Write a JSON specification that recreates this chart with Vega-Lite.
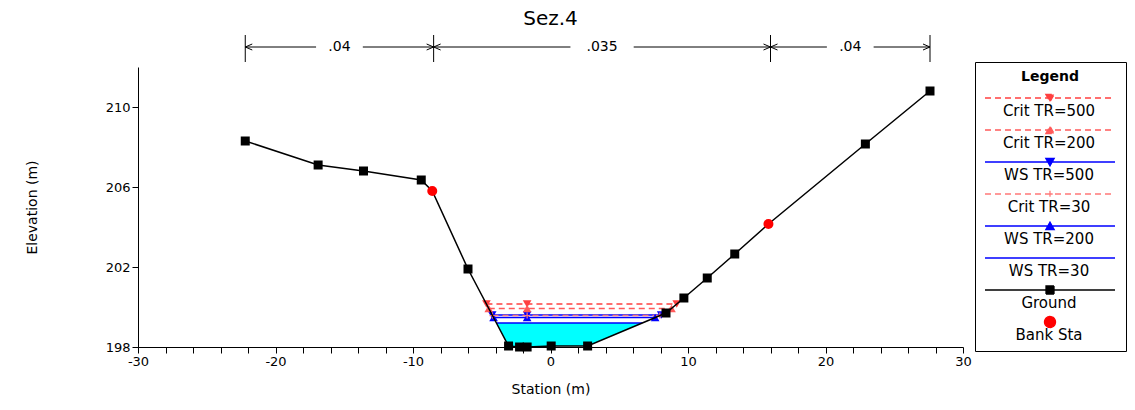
{
  "$schema": "https://vega.github.io/schema/vega-lite/v6.json",
  "width": 825,
  "height": 280,
  "autosize": "none",
  "padding": {"left": 138, "top": 67, "right": 172, "bottom": 63},
  "background": "white",
  "title": {"text": "Sez.4", "font": "DejaVu Sans", "fontSize": 20, "fontWeight": "normal", "color": "black", "anchor": "middle", "frame": "group", "offset": 6},
  "config": {
    "view": {"stroke": null},
    "axis": {"domainColor": "black", "tickColor": "black", "labelColor": "black", "titleColor": "black", "labelFont": "DejaVu Sans", "titleFont": "DejaVu Sans", "labelFontSize": 13, "titleFontSize": 14, "titleFontWeight": "normal", "grid": false, "labelOverlap": false, "labelFlush": false, "labelBound": false}
  },
  "datasets": {
    "ground": [
      {"series": "Ground", "station": -22.2, "elev": 208.3},
      {"series": "Ground", "station": -16.9, "elev": 207.1},
      {"series": "Ground", "station": -13.6, "elev": 206.8},
      {"series": "Ground", "station": -9.4, "elev": 206.35},
      {"series": "Ground", "station": -8.6, "elev": 205.8},
      {"series": "Ground", "station": -6.0, "elev": 201.9},
      {"series": "Ground", "station": -3.05, "elev": 198.05},
      {"series": "Ground", "station": -2.25, "elev": 198.0},
      {"series": "Ground", "station": -1.7, "elev": 198.0},
      {"series": "Ground", "station": 0.05, "elev": 198.05},
      {"series": "Ground", "station": 2.7, "elev": 198.05},
      {"series": "Ground", "station": 8.4, "elev": 199.7},
      {"series": "Ground", "station": 9.7, "elev": 200.45},
      {"series": "Ground", "station": 11.4, "elev": 201.45},
      {"series": "Ground", "station": 13.4, "elev": 202.65},
      {"series": "Ground", "station": 15.85, "elev": 204.15},
      {"series": "Ground", "station": 22.9, "elev": 208.15},
      {"series": "Ground", "station": 27.6, "elev": 210.8}
    ],
    "bank": [
      {"series": "Bank Sta", "station": -8.6, "elev": 205.8},
      {"series": "Bank Sta", "station": 15.85, "elev": 204.15}
    ],
    "fill": [
      {"station": -3.93, "elev": 199.2},
      {"station": -3.05, "elev": 198.05},
      {"station": -2.25, "elev": 198.0},
      {"station": -1.7, "elev": 198.0},
      {"station": 0.05, "elev": 198.05},
      {"station": 2.7, "elev": 198.05},
      {"station": 6.67, "elev": 199.2}
    ],
    "wl": [
      {"series": "Crit TR=500", "station": -4.66, "elev": 200.15, "marker": "down"},
      {"series": "Crit TR=500", "station": -1.7, "elev": 200.15, "marker": "down"},
      {"series": "Crit TR=500", "station": 9.18, "elev": 200.15, "marker": "down"},
      {"series": "Crit TR=200", "station": -4.49, "elev": 199.93, "marker": "up"},
      {"series": "Crit TR=200", "station": -1.7, "elev": 199.93, "marker": "up"},
      {"series": "Crit TR=200", "station": 8.8, "elev": 199.93, "marker": "up"},
      {"series": "WS TR=500", "station": -4.24, "elev": 199.6, "marker": "down"},
      {"series": "WS TR=500", "station": -1.7, "elev": 199.6, "marker": "down"},
      {"series": "WS TR=500", "station": 8.05, "elev": 199.6, "marker": "down"},
      {"series": "Crit TR=30", "station": -4.22, "elev": 199.57, "marker": "plus"},
      {"series": "Crit TR=30", "station": -1.7, "elev": 199.57, "marker": "plus"},
      {"series": "Crit TR=30", "station": 7.95, "elev": 199.57, "marker": "plus"},
      {"series": "WS TR=200", "station": -4.14, "elev": 199.47, "marker": "up"},
      {"series": "WS TR=200", "station": -1.7, "elev": 199.47, "marker": "up"},
      {"series": "WS TR=200", "station": 7.61, "elev": 199.47, "marker": "up"},
      {"series": "WS TR=30", "station": -3.93, "elev": 199.2, "marker": "none"},
      {"series": "WS TR=30", "station": 6.67, "elev": 199.2, "marker": "none"}
    ]
  },
  "encoding": {
    "x": {"field": "station", "type": "quantitative", "scale": {"domain": [-30, 30], "nice": false, "zero": false},
      "axis": {"title": "Station (m)", "values": [-30,-28,-26,-24,-22,-20,-18,-16,-14,-12,-10,-8,-6,-4,-2,0,2,4,6,8,10,12,14,16,18,20,22,24,26,28,30],
        "labelExpr": "datum.value % 10 === 0 ? toString(datum.value) : ''", "labelOverlap": false, "tickSize": 6, "labelPadding": 2, "titlePadding": 14,
        "encode": {"ticks": {"update": {"y2": {"signal": "datum.value % 10 === 0 ? 6 : 4"}}}}}},
    "color": {"field": "series", "type": "nominal",
      "scale": {"domain": ["Crit TR=500", "Crit TR=200", "WS TR=500", "Crit TR=30", "WS TR=200", "WS TR=30", "Ground", "Bank Sta"],
        "range": ["#ff4040", "#ff5a5a", "#0000ff", "#ff7878", "#0000ff", "#0000ff", "#000000", "#ff0000"]},
      "legend": {
        "title": "Legend", "orient": "none", "legendX": 837, "legendY": -5,
        "strokeColor": "black", "fillColor": "white", "padding": 8,
        "titleFont": "DejaVu Sans", "titleFontSize": 14, "titleFontWeight": "bold", "titleColor": "black", "titleAnchor": "middle", "titlePadding": 3,
        "labelFont": "DejaVu Sans", "labelFontSize": 15, "labelColor": "black", "labelLimit": 400,
        "symbolSize": 400, "symbolOffset": 56, "symbolStrokeWidth": 1.3, "rowPadding": -1,
        "encode": {
          "symbols": {"update": {
            "shape": {"signal": "datum.value === 'Crit TR=500' || datum.value === 'WS TR=500' ? 'M0,-0.52M0,0.52M-6.5,0H6.5M-0.42,-0.36H0.42L0,0.39Z' : datum.value === 'Crit TR=200' || datum.value === 'WS TR=200' ? 'M0,-0.52M0,0.52M-6.5,0H6.5M-0.42,0.36H0.42L0,-0.39Z' : datum.value === 'Crit TR=30' ? 'M0,-0.52M0,0.52M-6.5,0H6.5M-0.33,0H0.33M0,-0.33V0.33' : datum.value === 'WS TR=30' ? 'M0,-0.52M0,0.52M-6.5,0H6.5' : datum.value === 'Ground' ? 'M0,-0.52M0,0.52M-6.5,0H6.5M-0.4,-0.4H0.4V0.4H-0.4Z' : 'M-0.55,0A0.55,0.55,0,1,0,0.55,0A0.55,0.55,0,1,0,-0.55,0Z'"},
            "stroke": {"signal": "scale('color', datum.value)"},
            "fill": {"signal": "scale('color', datum.value)"},
            "strokeDash": {"signal": "indexof(datum.value, 'Crit') === 0 ? [6, 4] : [1, 0]"},
            "opacity": {"value": 1},
            "fillOpacity": {"value": 1},
            "strokeWidth": {"value": 1.3}
          }},
          "labels": {"update": {
            "x": {"value": 66},
            "align": {"value": "center"},
            "baseline": {"value": "middle"},
            "dy": {"value": 13}
          }}
        }
      }
    }
  },
  "layer": [
    {"data": {"name": "fill"}, "mark": {"type": "area", "color": "#00ffff"},
      "encoding": {"color": {"value": "#00ffff"},
        "y": {"field": "elev", "type": "quantitative", "scale": {"domain": [198, 212], "nice": false, "zero": false}},
        "y2": {"datum": 199.2}}},
    {"data": {"name": "wl"}, "transform": [{"filter": "indexof(datum.series, 'WS') === 0"}],
      "mark": {"type": "line", "strokeWidth": 1.5},
      "encoding": {"y": {"field": "elev", "type": "quantitative", "scale": {"domain": [198, 212], "nice": false, "zero": false}}}},
    {"data": {"name": "wl"}, "transform": [{"filter": "indexof(datum.series, 'Crit') === 0"}],
      "mark": {"type": "line", "strokeWidth": 1.5, "strokeDash": [6, 4]},
      "encoding": {"y": {"field": "elev", "type": "quantitative", "scale": {"domain": [198, 212], "nice": false, "zero": false}}}},
    {"data": {"name": "wl"}, "transform": [{"filter": "datum.marker === 'down'"}],
      "mark": {"type": "point", "shape": "triangle-down", "filled": true, "size": 75, "opacity": 1},
      "encoding": {"y": {"field": "elev", "type": "quantitative", "scale": {"domain": [198, 212], "nice": false, "zero": false}}}},
    {"data": {"name": "wl"}, "transform": [{"filter": "datum.marker === 'up'"}],
      "mark": {"type": "point", "shape": "triangle-up", "filled": true, "size": 75, "opacity": 1},
      "encoding": {"y": {"field": "elev", "type": "quantitative", "scale": {"domain": [198, 212], "nice": false, "zero": false}}}},
    {"data": {"name": "wl"}, "transform": [{"filter": "datum.marker === 'plus'"}],
      "mark": {"type": "point", "shape": "M-1,0H1M0,-1V1", "filled": false, "size": 36, "strokeWidth": 1.2, "opacity": 1},
      "encoding": {"y": {"field": "elev", "type": "quantitative", "scale": {"domain": [198, 212], "nice": false, "zero": false}}}},
    {"data": {"name": "ground"}, "mark": {"type": "line", "strokeWidth": 1.5},
      "encoding": {"y": {"field": "elev", "type": "quantitative", "scale": {"domain": [198, 212], "nice": false, "zero": false},
        "axis": {"title": "Elevation (m)", "values": [198, 200, 202, 204, 206, 208, 210, 212],
          "format": "d", "labelOverlap": false, "tickSize": 6, "labelPadding": 2, "titlePadding": 66}}}},
    {"data": {"name": "ground"}, "transform": [{"filter": "datum.station !== -8.6 && datum.station !== 15.85"}],
      "mark": {"type": "point", "shape": "square", "filled": true, "size": 81, "opacity": 1},
      "encoding": {"y": {"field": "elev", "type": "quantitative", "scale": {"domain": [198, 212], "nice": false, "zero": false}}}},
    {"data": {"name": "bank"}, "mark": {"type": "point", "shape": "circle", "filled": true, "size": 100, "opacity": 1},
      "encoding": {"y": {"field": "elev", "type": "quantitative", "scale": {"domain": [198, 212], "nice": false, "zero": false}}}},
    {"data": {"values": [{"station": -22.2}, {"station": -8.5}, {"station": 16.0}, {"station": 27.6}]},
      "mark": {"type": "rule", "strokeWidth": 1},
      "encoding": {"color": {"value": "black"}, "y": {"datum": 212.25, "type": "quantitative", "scale": {"domain": [198, 212], "nice": false, "zero": false}}, "y2": {"datum": 213.6}}},
    {"data": {"values": [{"from": -22.2, "to": -17.05}, {"from": -13.65, "to": -8.5}, {"from": -8.5, "to": 1.45}, {"from": 6.05, "to": 16.0}, {"from": 16.0, "to": 20.1}, {"from": 23.5, "to": 27.6}]},
      "mark": {"type": "rule", "strokeWidth": 1},
      "encoding": {"color": {"value": "black"}, "x": {"field": "from", "type": "quantitative"}, "x2": {"field": "to"}, "y": {"datum": 213.0, "type": "quantitative", "scale": {"domain": [198, 212], "nice": false, "zero": false}}}},
    {"data": {"values": [{"station": -15.35, "n": ".04"}, {"station": 3.75, "n": ".035"}, {"station": 21.8, "n": ".04"}]},
      "mark": {"type": "text", "font": "DejaVu Sans", "fontSize": 14, "baseline": "middle", "align": "center"},
      "encoding": {"color": {"value": "black"}, "y": {"datum": 213.0, "type": "quantitative", "scale": {"domain": [198, 212], "nice": false, "zero": false}}, "text": {"field": "n"}}},
    {"data": {"values": [{"station": -22.2}, {"station": -8.5}, {"station": 16.0}]},
      "mark": {"type": "point", "shape": "M3.5,-1.5L0,0L3.5,1.5", "filled": false, "size": 16, "strokeWidth": 1, "opacity": 1},
      "encoding": {"color": {"value": "black"}, "y": {"datum": 213.0, "type": "quantitative", "scale": {"domain": [198, 212], "nice": false, "zero": false}}}},
    {"data": {"values": [{"station": -8.5}, {"station": 16.0}, {"station": 27.6}]},
      "mark": {"type": "point", "shape": "M-3.5,-1.5L0,0L-3.5,1.5", "filled": false, "size": 16, "strokeWidth": 1, "opacity": 1},
      "encoding": {"color": {"value": "black"}, "y": {"datum": 213.0, "type": "quantitative", "scale": {"domain": [198, 212], "nice": false, "zero": false}}}}
  ]
}
